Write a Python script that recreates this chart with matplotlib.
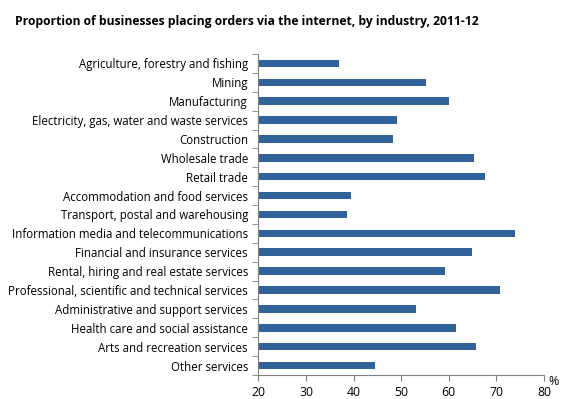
import matplotlib.pyplot as plt
import numpy as np

industries = [
    "Agriculture, forestry and fishing",
    "Mining",
    "Manufacturing",
    "Electricity, gas, water and waste services",
    "Construction",
    "Wholesale trade",
    "Retail trade",
    "Accommodation and food services",
    "Transport, postal and warehousing",
    "Information media and telecommunications",
    "Financial and insurance services",
    "Rental, hiring and real estate services",
    "Professional, scientific and technical services",
    "Administrative and support services",
    "Health care and social assistance",
    "Arts and recreation services",
    "Other services",
]
values = [37.0, 55.2, 60.1, 49.1, 48.3, 65.2, 67.6, 39.5, 38.6,
          73.9, 64.9, 59.2, 70.8, 53.1, 61.5, 65.7, 44.5]
xticks = [20, 30, 40, 50, 60, 70, 80]

plt.rcParams['font.family'] = ['Open Sans', 'DejaVu Sans']

fig = plt.figure(figsize=(5.62, 3.99), dpi=100)
ax = fig.add_axes([0.4597, 0.0602, 0.5083, 0.8045])

y = np.arange(len(industries))
ax.barh(y, [v - 20 for v in values], left=20, height=0.4, color='#31639A')
ax.set_ylim(len(industries) - 0.5, -0.5)
ax.set_xlim(20, 80)

ax.set_yticks(y)
ax.set_yticklabels(industries, fontsize=8.3)
ax.tick_params(axis='y', which='major', length=0, pad=7.5)
ax.set_yticks(np.arange(-0.5, len(industries), 1), minor=True)
ax.tick_params(axis='y', which='minor', length=4, color='#808080', direction='out')

ax.set_xticks(xticks)
ax.set_xticklabels([str(t) for t in xticks], fontsize=8.8)
ax.tick_params(axis='x', length=4, color='#808080', direction='out', pad=4)

for s in ['top', 'right']:
    ax.spines[s].set_visible(False)
for s in ['left', 'bottom']:
    ax.spines[s].set_color('#808080')

fig.text(0.985, 0.045, '%', fontsize=9, ha='center', va='center')
fig.text(0.027, 0.945, 'Proportion of businesses placing orders via the internet, by industry, 2011-12',
         fontsize=8.75, fontweight='bold', ha='left', va='center')

fig.savefig('out.png', dpi=100)
